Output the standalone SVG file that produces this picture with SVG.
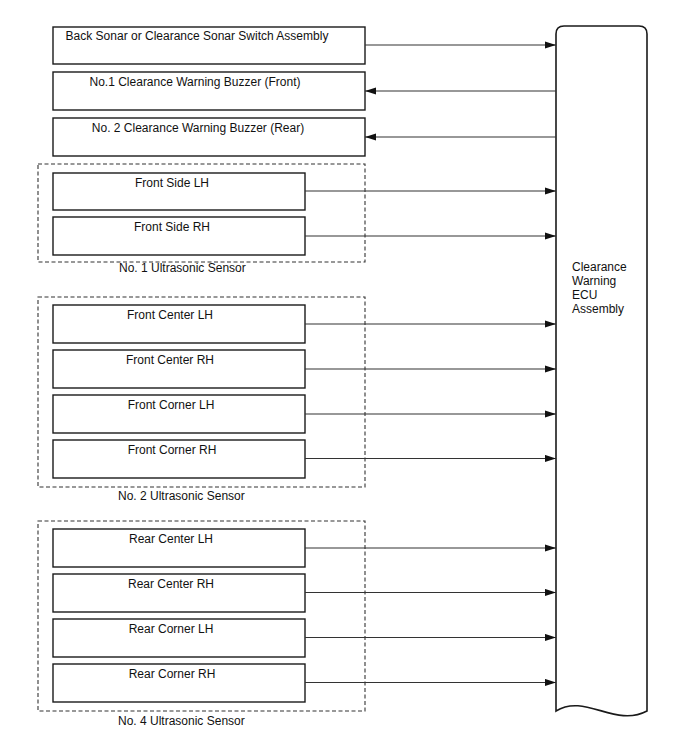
<svg xmlns="http://www.w3.org/2000/svg" width="688" height="755" viewBox="0 0 688 755">
<style>
.box{fill:#fff;stroke:#1a1a1a;stroke-width:1.4}
.grp{fill:none;stroke:#333;stroke-width:1.1;stroke-dasharray:4 2.5}
.t{font-family:"Liberation Sans",Arial,sans-serif;font-size:12px;fill:#111}
.m{text-anchor:middle}
.conn{stroke:#333;stroke-width:1.1;fill:none}
.ecu{fill:#fff;stroke:#1a1a1a;stroke-width:1.6}
</style>
<defs>
<marker id="ah" markerUnits="userSpaceOnUse" markerWidth="12" markerHeight="9" refX="11" refY="4" orient="auto">
<path d="M0,0.4 L11,4 L0,7.6 Z" fill="#111"/>
</marker>
</defs>
<g id="ecu">
<path class="ecu" d="M556,711 L556,34 Q556,26 564,26 L639,26 Q647,26 647,34 L647,711 C615,728 585,693 556,711 Z"/>
<text class="t" x="572" y="271">Clearance</text>
<text class="t" x="572" y="285">Warning</text>
<text class="t" x="572" y="299">ECU</text>
<text class="t" x="572" y="313">Assembly</text>
</g>
<g id="group1"><rect class="grp" x="38" y="164" width="327" height="98"/><text class="t" x="119" y="272">No. 1 Ultrasonic Sensor</text></g>
<g id="group2"><rect class="grp" x="38" y="297" width="327" height="190"/><text class="t" x="118" y="500">No. 2 Ultrasonic Sensor</text></g>
<g id="group4"><rect class="grp" x="38" y="521" width="327" height="190"/><text class="t" x="118" y="725">No. 4 Ultrasonic Sensor</text></g>
<g id="switch"><rect class="box" x="53" y="27" width="312" height="37"/><text class="t m" x="197" y="40">Back Sonar or Clearance Sonar Switch Assembly</text></g>
<g id="buzzer1"><rect class="box" x="53" y="72" width="312" height="38"/><text class="t m" x="195" y="86">No.1 Clearance Warning Buzzer (Front)</text></g>
<g id="buzzer2"><rect class="box" x="53" y="118" width="312" height="38"/><text class="t m" x="198" y="132">No. 2 Clearance Warning Buzzer (Rear)</text></g>
<g id="fslh"><rect class="box" x="53" y="173" width="252" height="37"/><text class="t m" x="172" y="187">Front Side LH</text></g>
<g id="fsrh"><rect class="box" x="53" y="217" width="252" height="38"/><text class="t m" x="172" y="231">Front Side RH</text></g>
<g id="fclh"><rect class="box" x="53" y="305" width="252" height="38"/><text class="t m" x="170" y="318.5">Front Center LH</text></g>
<g id="fcrh"><rect class="box" x="53" y="350" width="252" height="38"/><text class="t m" x="170" y="363.5">Front Center RH</text></g>
<g id="fcolh"><rect class="box" x="53" y="395" width="252" height="38"/><text class="t m" x="171" y="408.5">Front Corner LH</text></g>
<g id="fcorh"><rect class="box" x="53" y="440" width="252" height="38"/><text class="t m" x="172" y="453.5">Front Corner RH</text></g>
<g id="rclh"><rect class="box" x="53" y="529" width="252" height="38"/><text class="t m" x="171" y="542.5">Rear Center LH</text></g>
<g id="rcrh"><rect class="box" x="53" y="574" width="252" height="38"/><text class="t m" x="171" y="587.5">Rear Center RH</text></g>
<g id="rcolh"><rect class="box" x="53" y="619" width="252" height="38"/><text class="t m" x="171" y="632.5">Rear Corner LH</text></g>
<g id="rcorh"><rect class="box" x="53" y="664" width="252" height="38"/><text class="t m" x="172" y="677.5">Rear Corner RH</text></g>
<g id="connectors">
<line class="conn" x1="365" y1="45" x2="556" y2="45" marker-end="url(#ah)"/>
<line class="conn" x1="556" y1="91" x2="365" y2="91" marker-end="url(#ah)"/>
<line class="conn" x1="556" y1="137" x2="365" y2="137" marker-end="url(#ah)"/>
<line class="conn" x1="305" y1="191" x2="556" y2="191" marker-end="url(#ah)"/>
<line class="conn" x1="305" y1="236" x2="556" y2="236" marker-end="url(#ah)"/>
<line class="conn" x1="305" y1="324" x2="556" y2="324" marker-end="url(#ah)"/>
<line class="conn" x1="305" y1="369" x2="556" y2="369" marker-end="url(#ah)"/>
<line class="conn" x1="305" y1="414" x2="556" y2="414" marker-end="url(#ah)"/>
<line class="conn" x1="305" y1="458.5" x2="556" y2="458.5" marker-end="url(#ah)"/>
<line class="conn" x1="305" y1="548" x2="556" y2="548" marker-end="url(#ah)"/>
<line class="conn" x1="305" y1="592.5" x2="556" y2="592.5" marker-end="url(#ah)"/>
<line class="conn" x1="305" y1="637.5" x2="556" y2="637.5" marker-end="url(#ah)"/>
<line class="conn" x1="305" y1="682.5" x2="556" y2="682.5" marker-end="url(#ah)"/>
</g>
</svg>
